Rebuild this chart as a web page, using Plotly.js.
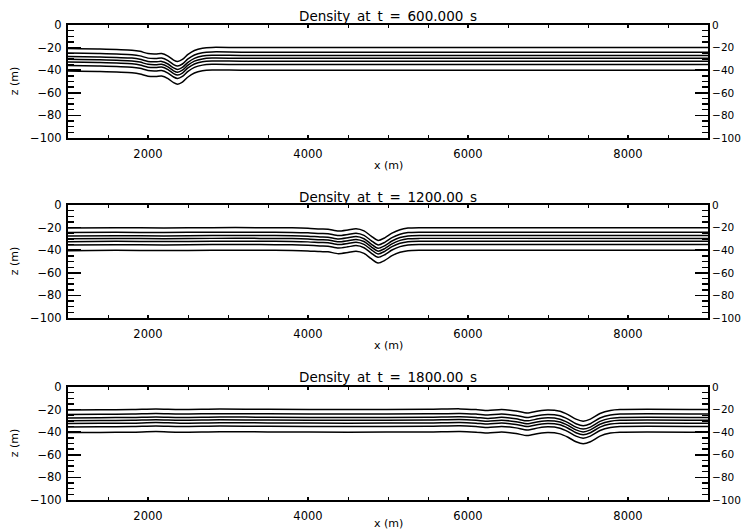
<!DOCTYPE html>
<html>
<head>
<meta charset="utf-8">
<script src="https://cdn.plot.ly/plotly-3.0.1.min.js"></script>
<style>html,body{margin:0;padding:0;background:#fff;}#chart{width:744px;height:531px;}</style>
</head>
<body>
<div id="chart"></div>
<script>
// Panel titles
const titles = ["Density\u2002at\u2002t\u2002=\u2002600.000\u2002s", "Density\u2002at\u2002t\u2002=\u20021200.00\u2002s", "Density\u2002at\u2002t\u2002=\u20021800.00\u2002s"];
const xTitle = "x (m)";
const yTitle = "z (m)";
const xTicks = [2000, 4000, 6000, 8000];
const yTicks = [0, -20, -40, -60, -80, -100];

// Panel 1 (t = 600 s): x positions and the 7 contour depths
const x600 = [1000,1400,1800,1900,2000,2100,2170,2250,2320,2370,2430,2500,2580,2680,2800,3200,9000];
const z600 = [
  [-20.8,-21.2,-22.3,-23.3,-25.3,-25.6,-25.2,-27.5,-31,-32.3,-30.5,-26,-22.5,-20.5,-19.8,-20,-20],
  [-24.8,-25.2,-26.3,-27.3,-29.3,-29.6,-29.2,-31.5,-35,-36.3,-34.5,-30,-26.5,-24.5,-23.8,-24,-24],
  [-27.8,-28.2,-29.3,-30.3,-32.3,-32.6,-32.2,-34.5,-38,-39.3,-37.5,-33,-29.5,-27.5,-26.8,-27,-27],
  [-30.3,-30.7,-31.8,-32.8,-34.8,-35.1,-34.7,-37,-40.5,-41.8,-40,-35.5,-32,-30,-29.3,-29.5,-29.5],
  [-32.8,-33.2,-34.3,-35.3,-37.3,-37.6,-37.2,-39.5,-43,-44.3,-42.5,-38,-34.5,-32.5,-31.8,-32,-32],
  [-35.8,-36.2,-37.3,-38.3,-40.3,-40.6,-40.2,-42.5,-46,-47.3,-45.5,-41,-37.5,-35.5,-34.8,-35,-35],
  [-40.8,-41.2,-42.3,-43.3,-45.3,-45.6,-45.2,-47.5,-51,-52.3,-50.5,-46,-42.5,-40.5,-39.8,-40,-40]
];

// Panel 2 (t = 1200 s)
const x1200 = [1000,1600,2200,2800,3400,3800,4000,4150,4250,4380,4500,4600,4700,4790,4875,4960,5050,5150,5250,5400,9000];
const z1200 = [
  [-20.4,-20.1,-20.3,-20,-20,-20.2,-20.6,-21.2,-21.4,-23,-22,-20.9,-22.8,-27.5,-31.3,-29,-24.8,-21.8,-20.4,-20,-20],
  [-24.4,-24.1,-24.3,-24,-24,-24.2,-24.6,-25.2,-25.4,-27,-26,-24.9,-26.8,-31.5,-35.3,-33,-28.8,-25.8,-24.4,-24,-24],
  [-27.4,-27.1,-27.3,-27,-27,-27.2,-27.6,-28.2,-28.4,-30,-29,-27.9,-29.8,-34.5,-38.3,-36,-31.8,-28.8,-27.4,-27,-27],
  [-29.9,-29.6,-29.8,-29.5,-29.5,-29.7,-30.1,-30.7,-30.9,-32.5,-31.5,-30.4,-32.3,-37,-40.8,-38.5,-34.3,-31.3,-29.9,-29.5,-29.5],
  [-32.4,-32.1,-32.3,-32,-32,-32.2,-32.6,-33.2,-33.4,-35,-34,-32.9,-34.8,-39.5,-43.3,-41,-36.8,-33.8,-32.4,-32,-32],
  [-35.4,-35.1,-35.3,-35,-35,-35.2,-35.6,-36.2,-36.4,-38,-37,-35.9,-37.8,-42.5,-46.3,-44,-39.8,-36.8,-35.4,-35,-35],
  [-40.4,-40.1,-40.3,-40,-40,-40.2,-40.6,-41.2,-41.4,-43,-42,-40.9,-42.8,-47.5,-51.3,-49,-44.8,-41.8,-40.4,-40,-40]
];

// Panel 3 (t = 1800 s)
const x1800 = [1000,1400,1800,2100,2400,2900,3500,4500,5500,5900,6100,6250,6420,6600,6740,6880,7000,7150,7250,7350,7440,7530,7650,7780,7900,9000];
const z1800 = [
  [-20.4,-20.2,-20,-19.5,-20,-19.6,-19.8,-20,-19.8,-19.4,-20,-20.8,-19.9,-21.2,-23,-21.2,-20.3,-21.5,-24.5,-28.5,-30.3,-28.5,-23.5,-20.8,-20,-20],
  [-24.4,-24.2,-24,-23.5,-24,-23.6,-23.8,-24,-23.8,-23.4,-24,-24.8,-23.9,-25.2,-27,-25.2,-24.3,-25.5,-28.5,-32.5,-34.3,-32.5,-27.5,-24.8,-24,-24],
  [-27.4,-27.2,-27,-26.5,-27,-26.6,-26.8,-27,-26.8,-26.4,-27,-27.8,-26.9,-28.2,-30,-28.2,-27.3,-28.5,-31.5,-35.5,-37.3,-35.5,-30.5,-27.8,-27,-27],
  [-29.9,-29.7,-29.5,-29,-29.5,-29.1,-29.3,-29.5,-29.3,-28.9,-29.5,-30.3,-29.4,-30.7,-32.5,-30.7,-29.8,-31,-34,-38,-39.8,-38,-33,-30.3,-29.5,-29.5],
  [-32.4,-32.2,-32,-31.5,-32,-31.6,-31.8,-32,-31.8,-31.4,-32,-32.8,-31.9,-33.2,-35,-33.2,-32.3,-33.5,-36.5,-40.5,-42.3,-40.5,-35.5,-32.8,-32,-32],
  [-35.4,-35.2,-35,-34.5,-35,-34.6,-34.8,-35,-34.8,-34.4,-35,-35.8,-34.9,-36.2,-38,-36.2,-35.3,-36.5,-39.5,-43.5,-45.3,-43.5,-38.5,-35.8,-35,-35],
  [-40.4,-40.2,-40,-39.5,-40,-39.6,-39.8,-40,-39.8,-39.4,-40,-40.8,-39.9,-41.2,-43,-41.2,-40.3,-41.5,-44.5,-48.5,-50.3,-48.5,-43.5,-40.8,-40,-40]
];

const panels = [[x600, z600], [x1200, z1200], [x1800, z1800]];
const FONT = "DejaVu Sans, Liberation Sans, sans-serif";

const traces = [];
panels.forEach((p, i) => {
  const xa = i === 0 ? 'x' : 'x' + (i + 1);
  const ya = i === 0 ? 'y' : 'y' + (i + 1);
  p[1].forEach(z => {
    traces.push({
      x: p[0], y: z, xaxis: xa, yaxis: ya, type: 'scatter', mode: 'lines',
      line: {color: '#000', width: 1.5, shape: 'spline', smoothing: 0.7},
      hoverinfo: 'skip', showlegend: false
    });
  });
  // right-hand axis companion (no visible marks)
  traces.push({x: [p[0][0]], y: [p[1][0][0]], xaxis: xa, yaxis: 'y' + (i + 4), type: 'scatter', mode: 'lines',
    line: {color: 'rgba(0,0,0,0)'}, hoverinfo: 'skip', showlegend: false});
});

const domains = [[0.762, 1.0], [0.383, 0.621], [0.0, 0.238]];
const layout = {
  width: 744, height: 531,
  margin: {l: 68, r: 36, t: 25, b: 31},
  paper_bgcolor: '#fff', plot_bgcolor: '#fff',
  showlegend: false,
  font: {family: FONT, color: '#000', size: 11.5},
  annotations: []
};

const titleY = [1.019, 0.638, 0.259];
const xTitleY = [0.705, 0.326, -0.0505];
const zTitleY = [0.882, 0.503, 0.12];

domains.forEach((d, i) => {
  const n = i === 0 ? '' : String(i + 1);
  const ya = i === 0 ? 'y' : 'y' + (i + 1);
  const xa = i === 0 ? 'x' : 'x' + (i + 1);
  layout['xaxis' + n] = {
    domain: [0, 1], anchor: ya, range: [1000, 9000],
    tickvals: xTicks, ticktext: xTicks.map(String),
    ticks: 'inside', ticklen: 3, tickwidth: 1.2, tickcolor: '#000',
    minor: {dtick: 500, tick0: 0, ticks: 'inside', ticklen: 2, tickwidth: 1, tickcolor: '#000', showgrid: false},
    showline: true, linewidth: 2, linecolor: '#000', mirror: 'allticks',
    showgrid: false, zeroline: false, ticklabelstandoff: 4,
    tickfont: {family: FONT, size: 11.5, color: '#000'}, fixedrange: true
  };
  layout['yaxis' + n] = {
    domain: d, anchor: xa, range: [-100, 0],
    tickvals: yTicks, ticks: 'inside', ticklen: 12.8, tickwidth: 1.6, tickcolor: '#000',
    minor: {dtick: 5, tick0: 0, ticks: 'inside', ticklen: 6.4, tickwidth: 1.4, tickcolor: '#000', showgrid: false},
    showline: true, linewidth: 2, linecolor: '#000',
    showgrid: false, zeroline: false, ticklabelstandoff: 2,
    tickfont: {family: FONT, size: 11.5, color: '#000'}, fixedrange: true
  };
  layout['yaxis' + (i + 4)] = {
    domain: d, anchor: xa, overlaying: ya, side: 'right', range: [-100, 0],
    tickvals: yTicks, ticks: 'inside', ticklen: 12.8, tickwidth: 1.6, tickcolor: '#000',
    minor: {dtick: 5, tick0: 0, ticks: 'inside', ticklen: 6.4, tickwidth: 1.4, tickcolor: '#000', showgrid: false},
    showline: true, linewidth: 2, linecolor: '#000',
    showgrid: false, zeroline: false, ticklabelstandoff: 0,
    tickfont: {family: FONT, size: 10.5, color: '#000'}, fixedrange: true
  };
  layout.annotations.push({text: titles[i], xref: 'paper', yref: 'paper', x: 0.5, y: titleY[i],
    xanchor: 'center', yanchor: 'middle', showarrow: false, font: {family: FONT, size: 13.5, color: '#000'}});
  layout.annotations.push({text: xTitle, xref: 'paper', yref: 'paper', x: 0.5, y: xTitleY[i],
    xanchor: 'center', yanchor: 'middle', showarrow: false, font: {family: FONT, size: 11, color: '#000'}});
  layout.annotations.push({text: yTitle, xref: 'paper', yref: 'paper', x: -0.084, y: zTitleY[i],
    xanchor: 'center', yanchor: 'middle', textangle: -90, showarrow: false, font: {family: FONT, size: 11, color: '#000'}});
});

Plotly.newPlot('chart', traces, layout, {staticPlot: true, displayModeBar: false});
</script>
</body>
</html>
